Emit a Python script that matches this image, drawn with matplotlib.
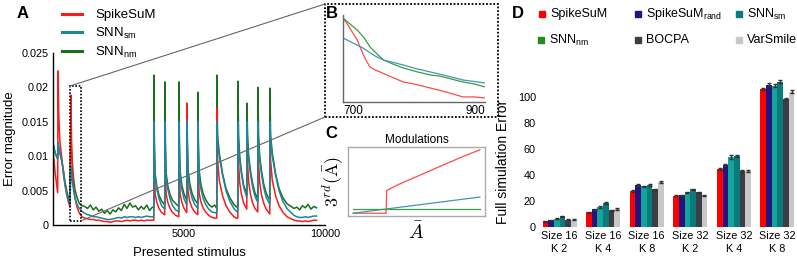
import matplotlib
matplotlib.use("Agg")
import matplotlib.pyplot as plt
from matplotlib.lines import Line2D
from matplotlib.patches import Rectangle, ConnectionPatch

plt.rcParams['font.family'] = ['Liberation Sans', 'DejaVu Sans']
plt.rcParams['mathtext.fontset'] = 'custom'
plt.rcParams['mathtext.rm'] = 'Liberation Sans'
plt.rcParams['mathtext.it'] = 'Liberation Sans:italic'
plt.rcParams['mathtext.bf'] = 'Liberation Sans:bold'

# ---------------- Panel A data ----------------
stim_x = [355, 430, 520, 532, 560, 600, 663, 720, 780, 840, 900, 957, 993, 1010, 1064, 1130, 1206, 1290, 1383,
          1480, 1580, 1680, 1780, 1880, 1980, 2080, 2180, 2280, 2380, 2480, 2580, 2680, 2780, 2880, 2980, 3080,
          3180, 3280, 3380, 3480, 3580, 3680, 3780, 3880,
          3930, 3936, 3951, 3976, 4036, 4116, 4206, 4316,
          4326, 4341, 4366, 4426, 4506, 4596, 4706, 4816,
          4823, 4838, 4863, 4923, 5003, 5098,
          5106, 5121, 5146, 5206, 5286, 5376, 5488,
          5496, 5511, 5536, 5596, 5676, 5766, 5876, 5986, 6086, 6162,
          6170, 6190, 6250, 6370, 6490, 6620, 6770, 6860, 6908,
          6915, 6935, 6975, 7035, 7115, 7226,
          7234, 7254, 7294, 7354, 7434, 7514, 7616,
          7624, 7644, 7684, 7744, 7824, 7914, 8042,
          8050, 8070, 8130, 8250, 8370, 8500, 8650, 8800, 8900, 9000, 9100, 9200, 9300, 9400, 9500, 9600, 9700]

err_spikesum = [0.0109, 0.0076, 0.0047, 0.0224, 0.0160, 0.0120, 0.0099, 0.0075, 0.0058, 0.0045, 0.0034, 0.0026, 0.0189, 0.0120, 0.0065, 0.0040, 0.0026, 0.0017, 0.0012,
                0.0010, 0.0009, 0.0008, 0.0008, 0.0007, 0.0007, 0.0006, 0.0005, 0.0005, 0.0004, 0.0005, 0.0006, 0.0006, 0.0005, 0.0006, 0.0007, 0.0006,
                0.0007, 0.0007, 0.0006, 0.0007, 0.0006, 0.0007, 0.0007, 0.0007,
                0.0007, 0.0120, 0.0080, 0.0045, 0.0033, 0.0024, 0.0018, 0.0015,
                0.0130, 0.0080, 0.0045, 0.0033, 0.0024, 0.0018, 0.0014, 0.0012,
                0.0140, 0.0085, 0.0045, 0.0033, 0.0024, 0.0018,
                0.0177, 0.0090, 0.0048, 0.0034, 0.0025, 0.0019, 0.0015,
                0.0140, 0.0085, 0.0047, 0.0034, 0.0025, 0.0019, 0.0014, 0.0011, 0.0010, 0.0010,
                0.0170, 0.0095, 0.0065, 0.0042, 0.0028, 0.0019, 0.0012, 0.0010, 0.0010,
                0.0140, 0.0090, 0.0062, 0.0045, 0.0032, 0.0023,
                0.0150, 0.0090, 0.0062, 0.0045, 0.0032, 0.0024, 0.0019,
                0.0140, 0.0090, 0.0062, 0.0045, 0.0032, 0.0023, 0.0016,
                0.0140, 0.0095, 0.0065, 0.0042, 0.0028, 0.0019, 0.0012, 0.0009, 0.0007, 0.0006, 0.0006, 0.0005, 0.0006, 0.0005, 0.0006, 0.0007, 0.0007]

err_snn_sm = [0.0119, 0.0105, 0.0096, 0.0120, 0.0112, 0.0105, 0.0095, 0.0080, 0.0060, 0.0045, 0.0034, 0.0030, 0.0085, 0.0072, 0.0056, 0.0040, 0.0030, 0.0024, 0.0020,
              0.0017, 0.0015, 0.0014, 0.0012, 0.0012, 0.0011, 0.0010, 0.0009, 0.0008, 0.0008, 0.0009, 0.0010, 0.0011, 0.0010, 0.0012, 0.0011, 0.0012,
              0.0012, 0.0011, 0.0012, 0.0011, 0.0012, 0.0013, 0.0012, 0.0012,
              0.0012, 0.0150, 0.0110, 0.0068, 0.0052, 0.0038, 0.0028, 0.0023,
              0.0150, 0.0110, 0.0068, 0.0052, 0.0038, 0.0028, 0.0022, 0.0019,
              0.0150, 0.0110, 0.0068, 0.0052, 0.0038, 0.0029,
              0.0150, 0.0110, 0.0070, 0.0053, 0.0039, 0.0030, 0.0024,
              0.0150, 0.0110, 0.0070, 0.0053, 0.0039, 0.0030, 0.0023, 0.0019, 0.0018, 0.0017,
              0.0150, 0.0125, 0.0100, 0.0072, 0.0050, 0.0035, 0.0024, 0.0020, 0.0019,
              0.0150, 0.0120, 0.0095, 0.0075, 0.0055, 0.0040,
              0.0150, 0.0120, 0.0095, 0.0075, 0.0055, 0.0042, 0.0033,
              0.0150, 0.0120, 0.0095, 0.0075, 0.0055, 0.0040, 0.0030,
              0.0150, 0.0125, 0.0100, 0.0072, 0.0050, 0.0035, 0.0024, 0.0018, 0.0014, 0.0012, 0.0011, 0.0011, 0.0012, 0.0011, 0.0012, 0.0013, 0.0013]

err_snn_nm = [0.0119, 0.0105, 0.0096, 0.0120, 0.0112, 0.0105, 0.0093, 0.0080, 0.0063, 0.0050, 0.0040, 0.0036, 0.0186, 0.0110, 0.0075, 0.0052, 0.0040, 0.0031, 0.0028,
              0.0027, 0.0024, 0.0029, 0.0022, 0.0026, 0.0020, 0.0023, 0.0017, 0.0021, 0.0016, 0.0022, 0.0019, 0.0025, 0.0021, 0.0030, 0.0024, 0.0032,
              0.0026, 0.0028, 0.0022, 0.0027, 0.0023, 0.0029, 0.0021, 0.0026,
              0.0026, 0.0218, 0.0120, 0.0075, 0.0056, 0.0043, 0.0035, 0.0029,
              0.0208, 0.0120, 0.0076, 0.0057, 0.0044, 0.0036, 0.0031, 0.0027,
              0.0208, 0.0120, 0.0078, 0.0058, 0.0045, 0.0036,
              0.0177, 0.0120, 0.0080, 0.0060, 0.0046, 0.0037, 0.0031,
              0.0193, 0.0120, 0.0080, 0.0060, 0.0046, 0.0037, 0.0030, 0.0026, 0.0029, 0.0024,
              0.0218, 0.0130, 0.0105, 0.0074, 0.0053, 0.0040, 0.0030, 0.0026, 0.0028,
              0.0209, 0.0130, 0.0100, 0.0078, 0.0058, 0.0045,
              0.0177, 0.0130, 0.0100, 0.0080, 0.0060, 0.0047, 0.0038,
              0.0200, 0.0130, 0.0100, 0.0080, 0.0060, 0.0046, 0.0036,
              0.0199, 0.0130, 0.0105, 0.0074, 0.0053, 0.0040, 0.0031, 0.0027, 0.0024, 0.0026, 0.0022, 0.0028, 0.0025, 0.0030, 0.0023, 0.0027, 0.0025]

a_yticks = [0, 0.005, 0.01, 0.015, 0.02, 0.025]
a_yticklabels = ['0', '0.005', '0.01', '0.015', '0.02', '0.025']
a_xticks = [5000, 10000]

# ---------------- Panel B data ----------------
b_red_x = [700, 707, 713, 720, 724, 730, 738, 745, 752, 765, 785, 800, 823, 845, 869, 885, 900]
b_red_y = [0.01162, 0.01074, 0.00985, 0.00884, 0.00796, 0.00669, 0.00543, 0.00505, 0.00480, 0.00429,
           0.00353, 0.00328, 0.00277, 0.00227, 0.00164, 0.00164, 0.00151]
b_green_x = [700, 710, 720, 730, 738, 748, 757, 770, 785, 805, 823, 835, 847, 858, 869, 885, 900]
b_green_y = [0.01162, 0.01086, 0.01010, 0.00909, 0.00796, 0.00707, 0.00631, 0.00581, 0.00530, 0.00480,
             0.00442, 0.00429, 0.00404, 0.00378, 0.00353, 0.00328, 0.00290]
b_teal_x = [700, 728, 745, 757, 785, 805, 823, 847, 869, 900]
b_teal_y = [0.00909, 0.00783, 0.00682, 0.00631, 0.00568, 0.00517, 0.00480, 0.00429, 0.00378, 0.00341]

# ---------------- Panel C data ----------------
c_red_x = [0.0, 0.26, 0.265, 0.35, 0.50, 0.70, 0.85, 1.0]
c_red_y = [0.04, 0.04, 0.37, 0.45, 0.57, 0.73, 0.85, 0.96]
c_teal_x = [0.0, 1.0]
c_teal_y = [0.04, 0.275]
c_green_x = [0.0, 1.0]
c_green_y = [0.10, 0.10]

# ---------------- Panel D data ----------------
groups = ['Size 16\nK 2', 'Size 16\nK 4', 'Size 16\nK 8', 'Size 32\nK 2', 'Size 32\nK 4', 'Size 32\nK 8']
methods = ['SpikeSuM', r'SpikeSuM$_{\mathrm{rand}}$', r'SNN$_{\mathrm{sm}}$', r'SNN$_{\mathrm{nm}}$', 'BOCPA', 'VarSmile']
val_spikesum = [4.6, 11.3, 27.7, 24.1, 44.4, 106.2]
val_rand = [5.1, 13.6, 32.0, 24.4, 48.0, 109.5]
val_snn_sm = [6.4, 15.4, 31.3, 26.7, 53.8, 108.8]
val_snn_nm = [8.2, 18.5, 32.6, 29.0, 54.6, 111.8]
val_bocpa = [5.6, 12.8, 29.0, 26.7, 42.8, 98.4]
val_varsmile = [5.6, 13.8, 34.4, 24.4, 43.1, 104.1]
err_spk = [0.4, 0.5, 0.6, 0.5, 0.7, 1.0]
err_rand = [0.4, 0.5, 0.7, 0.5, 0.8, 1.0]
err_sm = [0.4, 0.5, 0.6, 0.6, 1.8, 1.0]
err_nm = [0.5, 0.6, 0.7, 0.6, 0.8, 1.1]
err_boc = [0.4, 0.5, 0.6, 0.6, 0.7, 1.0]
err_var = [0.4, 0.5, 0.7, 0.5, 0.7, 1.0]
d_yticks = [0, 20, 40, 60, 80, 100]

bar_colors = ['#ff0000', '#26127e', '#12a59a', '#0b7a7a', '#3d3d45', '#c8c8c8']
legend_colors = ['#ff0000', '#26127e', '#0b7a7a', '#228b22', '#3d3d45', '#c8c8c8']

W, H = 797, 260
fig = plt.figure(figsize=(W / 100, H / 100), dpi=100)

def fx(px):
    return px / W

def fy(py):
    return 1 - py / H

RED, TEAL, GREEN = '#ff1a1a', '#1a879c', '#1a6e1e'

# ---------------- Panel A ----------------
axA = fig.add_axes([fx(53), fy(225), fx(325 - 53), (225 - 53) / H])
lg, = axA.plot(stim_x, err_snn_nm, color=GREEN, lw=1.1)
lr, = axA.plot(stim_x, err_spikesum, color=RED, lw=1.1)
lt, = axA.plot(stim_x, err_snn_sm, color=TEAL, lw=1.1)
axA.set_xlim(355, 10000)
axA.set_ylim(0, 0.025)
axA.set_yticks(a_yticks)
axA.set_yticklabels(a_yticklabels)
axA.set_xticks(a_xticks)
axA.set_xticklabels([str(t) for t in a_xticks])
axA.tick_params(length=0, labelsize=7.8, pad=3)
for s in ['top', 'right']:
    axA.spines[s].set_visible(False)
axA.spines['left'].set_linewidth(1.0)
axA.spines['bottom'].set_linewidth(1.0)
axA.set_ylabel('Error magnitude', fontsize=9.5, labelpad=4)
axA.set_xlabel('Presented stimulus', fontsize=9.5, labelpad=6)
axA.legend([lr, lt, lg], ['SpikeSuM', r'SNN$_{\mathrm{sm}}$', r'SNN$_{\mathrm{nm}}$'],
           loc='upper left', bbox_to_anchor=(fx(62), fy(9)), bbox_transform=fig.transFigure,
           frameon=False, fontsize=9.5, handlelength=1.5, handletextpad=1.0, labelspacing=0.33,
           borderaxespad=0, borderpad=0)
for h in axA.get_legend().legend_handles:
    h.set_linewidth(2.2)

rx0, rx1 = 957, 1348
ry0, ry1 = 0.0006, 0.0202
axA.add_patch(Rectangle((rx0, ry0), rx1 - rx0, ry1 - ry0, fill=False, ls=(0, (1, 1)), lw=1.2,
                        ec='black', zorder=5))
fig.text(fx(17), fy(13), 'A', fontsize=12, fontweight='bold', va='center')

# ---------------- Panel B ----------------
fig.add_artist(Rectangle((fx(325), fy(117)), fx(498 - 325), (117 - 4) / H, transform=fig.transFigure,
                         fill=False, ls=(0, (1, 1)), lw=1.3, ec='black'))
con1 = ConnectionPatch(xyA=(rx0, ry1), coordsA='data', axesA=axA,
                       xyB=(fx(325), fy(4)), coordsB='figure fraction', color='#666666', lw=0.8)
con2 = ConnectionPatch(xyA=(rx1, ry0), coordsA='data', axesA=axA,
                       xyB=(fx(325), fy(117)), coordsB='figure fraction', color='#666666', lw=0.8)
fig.add_artist(con1)
fig.add_artist(con2)

axB = fig.add_axes([fx(343), fy(102), fx(485 - 343), (102 - 15) / H])
axB.plot(b_red_x, b_red_y, color='#ff4a4a', lw=0.9)
axB.plot(b_green_x, b_green_y, color='#3f9a45', lw=0.9)
axB.plot(b_teal_x, b_teal_y, color='#3f9aac', lw=0.9)
axB.set_xlim(700, 900)
axB.set_ylim(0.0010, 0.0120)
axB.set_xticks([700, 900])
axB.set_xticklabels(['700', '900'])
lbls = axB.get_xticklabels()
lbls[0].set_ha('left')
lbls[1].set_ha('right')
axB.set_yticks([])
axB.tick_params(length=0, labelsize=8.5, pad=2)
for s in ['top', 'right']:
    axB.spines[s].set_visible(False)
for s in ['left', 'bottom']:
    axB.spines[s].set_color('#666666')
    axB.spines[s].set_linewidth(1.0)
axB.patch.set_alpha(0)
fig.text(fx(326), fy(13), 'B', fontsize=12, fontweight='bold', va='center')

# ---------------- Panel C ----------------
axC = fig.add_axes([fx(348), fy(216), fx(485 - 348), (216 - 147) / H])
axC.plot(c_red_x, c_red_y, color='#ff4a4a', lw=0.9)
axC.plot(c_teal_x, c_teal_y, color='#3f9aac', lw=0.9)
axC.plot(c_green_x, c_green_y, color='#3f9a45', lw=0.9)
axC.set_xlim(-0.04, 1.04)
axC.set_ylim(0, 1)
axC.set_xticks([])
axC.set_yticks([])
for s in axC.spines.values():
    s.set_color('#aaaaaa')
    s.set_linewidth(1.0)
axC.set_title('Modulations', fontsize=8.5, pad=3)
axC.set_ylabel(r'$3^{rd}(\bar{\mathrm{A}})$', fontsize=13, math_fontfamily='cm', labelpad=2)
axC.set_xlabel(r'$\bar{A}$', fontsize=14, math_fontfamily='cm', labelpad=4)
fig.text(fx(325), fy(133), 'C', fontsize=12, fontweight='bold', va='center')

# ---------------- Panel D ----------------
axD = fig.add_axes([fx(540), fy(227), fx(797 - 540), 156 / H])
series = [val_spikesum, val_rand, val_snn_sm, val_snn_nm, val_bocpa, val_varsmile]
errs = [err_spk, err_rand, err_sm, err_nm, err_boc, err_var]
bw = 0.13
xs = list(range(len(groups)))
for i, (vals, ee) in enumerate(zip(series, errs)):
    pos = [x + (i - 2.5) * bw for x in xs]
    axD.bar(pos, vals, width=bw, color=bar_colors[i], yerr=ee, ecolor='#333333',
            error_kw=dict(elinewidth=1.0, capsize=1.6, capthick=1.0), linewidth=0)
axD.set_xlim(-0.45, 5.45)
axD.set_ylim(0, 120)
axD.set_yticks(d_yticks)
axD.set_xticks(xs)
axD.set_xticklabels(groups, fontsize=7.8, linespacing=1.35)
axD.tick_params(length=0, labelsize=7.8, pad=3)
for s in axD.spines.values():
    s.set_visible(False)
axD.set_ylabel('Full simulation Error', fontsize=10)
axD.yaxis.set_label_coords(-0.115, (227 - 162) / 156)
fig.text(fx(512), fy(13), 'D', fontsize=12, fontweight='bold', va='center')

leg_pos = [(542, 14), (638, 14), (739, 14), (541, 40), (638, 40), (739, 40)]
for (px, py), name, col in zip(leg_pos, methods, legend_colors):
    fig.add_artist(Line2D([fx(px)], [fy(py)], marker='s', markersize=4.5, color=col, ls='',
                          transform=fig.transFigure))
    fig.text(fx(px + 8), fy(py), name, fontsize=9, va='center', ha='left')

fig.savefig('out.png', dpi=100)
